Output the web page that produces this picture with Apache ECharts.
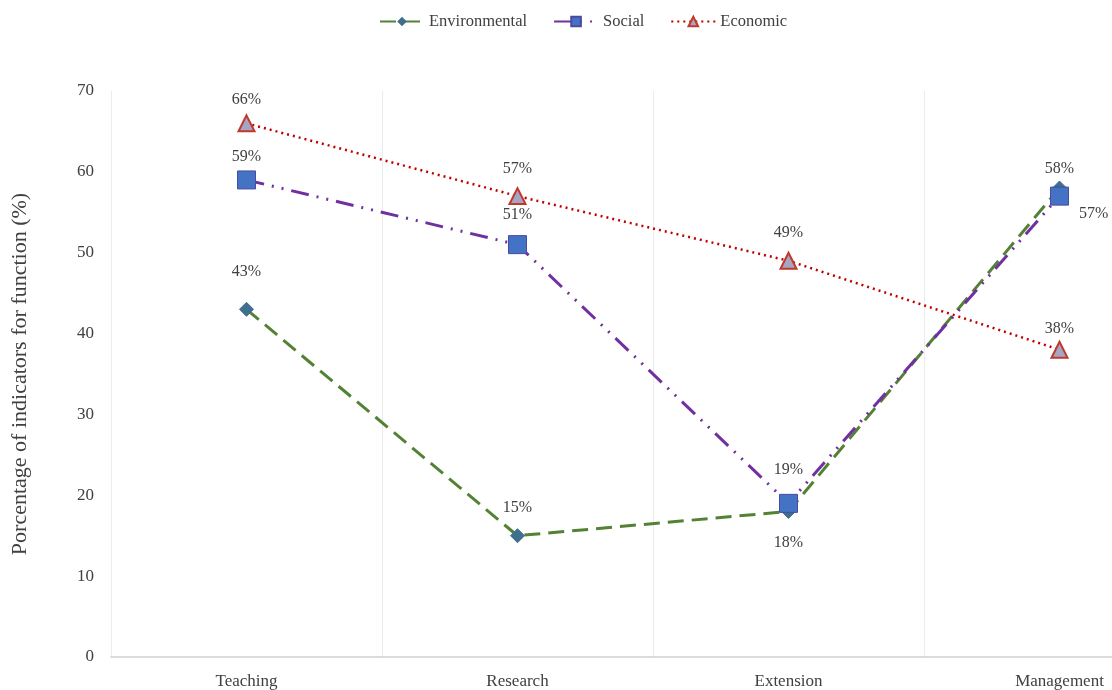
<!DOCTYPE html>
<html>
<head>
<meta charset="utf-8">
<script src="https://cdn.jsdelivr.net/npm/echarts@6/dist/echarts.min.js"></script>
<style>
  html, body { margin: 0; padding: 0; background: #fff; overflow: hidden; }
  /* plot runs past the right edge, as in the original figure */
  #chart { width: 1200px; height: 690px; }
</style>
</head>
<body>
<div id="chart"></div>
<script>
const categories = ['Teaching', 'Research', 'Extension', 'Management']
const environmental = [43, 15, 18, 58]
const social = [59, 51, 19, 57]
const economic = [66, 57, 49, 38]
const yTicks = { min: 0, max: 70, interval: 10 }

// where each point's label sits
const envLabelPos = ['top', 'top', 'bottom', 'top']
const socLabelPos = ['top', 'top', 'top', 'right']
const ecoLabelPos = ['top', 'top', 'top', 'top']

const font = 'Liberation Serif'
const textColor = '#404040'

function withLabels (values, positions, offsets) {
  return values.map((v, i) => ({
    value: v,
    label: { position: positions[i], offset: offsets ? offsets[i] : [0, 0] }
  }))
}

const chart = echarts.init(document.getElementById('chart'))
chart.setOption({
  animation: false,
  textStyle: { fontFamily: font },
  legend: {
    top: 8,
    left: 374,
    itemWidth: 44,
    itemHeight: 12,
    itemGap: 26,
    textStyle: { fontFamily: font, fontSize: 16.5, color: textColor },
    data: ['Environmental', 'Social', 'Economic']
  },
  grid: { left: 111, top: 91, bottom: 31, width: 1084 },
  xAxis: {
    type: 'category',
    data: categories,
    boundaryGap: true,
    axisTick: { show: false },
    axisLine: { lineStyle: { color: '#d0d0d0', width: 1.5 } },
    splitLine: { show: true, lineStyle: { color: '#ececec' } },
    axisLabel: { fontFamily: font, fontSize: 17, color: textColor, margin: 16 }
  },
  yAxis: {
    type: 'value',
    min: yTicks.min,
    max: yTicks.max,
    interval: yTicks.interval,
    axisLine: { show: false },
    axisTick: { show: false },
    splitLine: { show: false },
    axisLabel: { fontFamily: font, fontSize: 17, color: textColor, margin: 17 },
    name: 'Porcentage of indicators for function (%)',
    nameLocation: 'middle',
    nameGap: 80,
    nameTextStyle: { fontFamily: font, fontSize: 22, color: textColor }
  },
  series: [
    {
      name: 'Environmental',
      type: 'line',
      data: withLabels(environmental, envLabelPos, [[0, -10], [0, 0], [0, 4], [0, 8]]),
      symbol: 'diamond',
      symbolSize: 14,
      itemStyle: { color: '#3f6f8f', borderColor: '#3f6f8f' },
      lineStyle: { color: '#548235', width: 3, type: [16, 8] },
      label: { show: true, formatter: '{c}%', fontFamily: font, fontSize: 16, color: textColor, distance: 12 },
      z: 3
    },
    {
      name: 'Social',
      type: 'line',
      data: withLabels(social, socLabelPos, [[0, 2], [0, -4], [0, -8], [2, 18]]),
      symbol: 'rect',
      symbolSize: 18,
      itemStyle: { color: '#4472c4', borderColor: '#4a4aa0', borderWidth: 1 },
      lineStyle: { color: '#7030a0', width: 3, type: [18, 8, 2, 8, 2, 8] },
      label: { show: true, formatter: '{c}%', fontFamily: font, fontSize: 16, color: textColor, distance: 8 },
      z: 4
    },
    {
      name: 'Economic',
      type: 'line',
      data: withLabels(economic, ecoLabelPos, [[0, 1], [0, -2], [0, -3], [0, 4]]),
      symbol: 'triangle',
      symbolSize: 16,
      itemStyle: { color: '#a6a6c4', borderColor: '#c0392b', borderWidth: 2 },
      lineStyle: { color: '#c00000', width: 2.5, type: [2, 4] },
      label: { show: true, formatter: '{c}%', fontFamily: font, fontSize: 16, color: textColor, distance: 8 },
      z: 5
    }
  ]
})
window.addEventListener('resize', () => chart.resize())
</script>
</body>
</html>
